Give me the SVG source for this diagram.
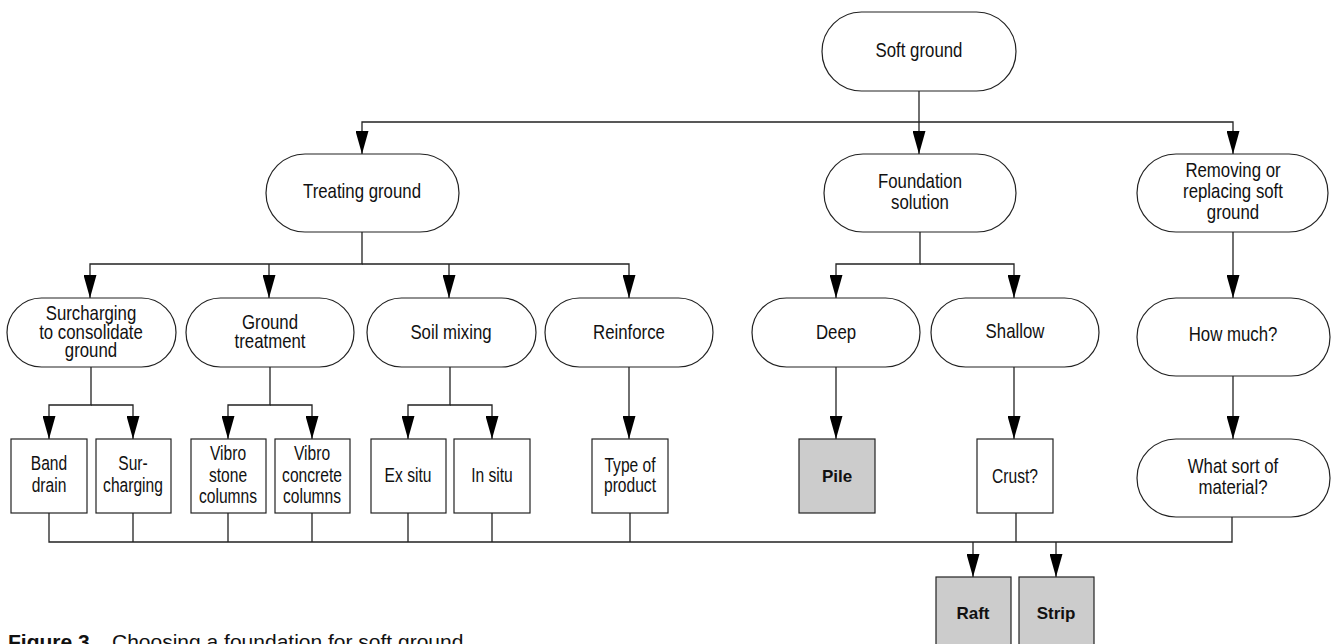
<svg xmlns="http://www.w3.org/2000/svg" width="1332" height="644" viewBox="0 0 1332 644">
<defs>
<style>
.pill{fill:#fff;stroke:#222;stroke-width:1.2}
.box{fill:#fff;stroke:#222;stroke-width:1.2}
.grey{fill:#cccccc;stroke:#222;stroke-width:1.2}
.t{font-family:"Liberation Sans",Arial,sans-serif;font-size:20.5px;fill:#111;text-anchor:middle}
.s{font-family:"Liberation Sans",Arial,sans-serif;font-size:19.5px;fill:#111;text-anchor:middle}
.b{font-family:"Liberation Sans",Arial,sans-serif;font-size:17px;font-weight:bold;fill:#111;text-anchor:middle}
.cap{font-family:"Liberation Sans",Arial,sans-serif;font-size:21px;fill:#111}
.c{fill:none;stroke:#222;stroke-width:1.3}
</style>
<marker id="ah" viewBox="0 0 23 13" refX="23" refY="6.5" markerWidth="23" markerHeight="13" markerUnits="userSpaceOnUse" orient="auto">
<path d="M0,0 L23,6.5 L0,13 z" fill="#000"/>
</marker>
</defs>
<rect width="1332" height="644" fill="#fff"/>

<g id="connectors">
<path class="c" d="M919,91 V154" marker-end="url(#ah)"/>
<path class="c" d="M919,122 H362 V154" marker-end="url(#ah)"/>
<path class="c" d="M919,122 H1233 V154" marker-end="url(#ah)"/>
<path class="c" d="M362,232 V264 H90 V298" marker-end="url(#ah)"/>
<path class="c" d="M362,264 H629 V298" marker-end="url(#ah)"/>
<path class="c" d="M269,264 V298" marker-end="url(#ah)"/>
<path class="c" d="M449,264 V298" marker-end="url(#ah)"/>
<path class="c" d="M920,232 V264 H836 V298" marker-end="url(#ah)"/>
<path class="c" d="M920,264 H1014 V298" marker-end="url(#ah)"/>
<path class="c" d="M1233,232 V298" marker-end="url(#ah)"/>
<path class="c" d="M91,367 V405 H49 V439" marker-end="url(#ah)"/>
<path class="c" d="M91,405 H133 V439" marker-end="url(#ah)"/>
<path class="c" d="M270,367 V405 H228 V439" marker-end="url(#ah)"/>
<path class="c" d="M270,405 H312 V439" marker-end="url(#ah)"/>
<path class="c" d="M450,367 V405 H408 V439" marker-end="url(#ah)"/>
<path class="c" d="M450,405 H492 V439" marker-end="url(#ah)"/>
<path class="c" d="M629,367 V439" marker-end="url(#ah)"/>
<path class="c" d="M836,367 V439" marker-end="url(#ah)"/>
<path class="c" d="M1014,367 V439" marker-end="url(#ah)"/>
<path class="c" d="M1233,376 V439" marker-end="url(#ah)"/>
<path class="c" d="M49,513 V542 H1232 V517"/>
<path class="c" d="M133,513 V542 M228,513 V542 M312,513 V542 M408,513 V542 M492,513 V542 M630,513 V542 M1016,513 V542"/>
<path class="c" d="M973,542 V577" marker-end="url(#ah)"/>
<path class="c" d="M1056,542 V577" marker-end="url(#ah)"/>
</g>

<g id="soft-ground">
<rect class="pill" x="822" y="12" width="194" height="79" rx="39.5"/>
<text class="t" transform="translate(919,0) scale(0.82,1)" x="0" y="57">Soft ground</text>
</g>
<g id="treating-ground">
<rect class="pill" x="266" y="154" width="193" height="78" rx="39"/>
<text class="t" transform="translate(362,0) scale(0.82,1)" x="0" y="198">Treating ground</text>
</g>
<g id="foundation-solution">
<rect class="pill" x="824" y="154" width="192" height="78" rx="39"/>
<text class="t" transform="translate(920,0) scale(0.82,1)"><tspan x="0" y="188">Foundation</tspan><tspan x="0" y="209">solution</tspan></text>
</g>
<g id="removing">
<rect class="pill" x="1137" y="154" width="191" height="78" rx="39"/>
<text class="t" transform="translate(1233,0) scale(0.82,1)"><tspan x="0" y="177">Removing or</tspan><tspan x="0" y="198">replacing soft</tspan><tspan x="0" y="219">ground</tspan></text>
</g>
<g id="surcharging">
<rect class="pill" x="7" y="298" width="169" height="69" rx="34.5"/>
<text class="t" transform="translate(91,0) scale(0.82,1)"><tspan x="0" y="320">Surcharging</tspan><tspan x="0" y="339">to consolidate</tspan><tspan x="0" y="357">ground</tspan></text>
</g>
<g id="ground-treatment">
<rect class="pill" x="186" y="298" width="168" height="69" rx="34.5"/>
<text class="t" transform="translate(270,0) scale(0.82,1)"><tspan x="0" y="329">Ground</tspan><tspan x="0" y="348">treatment</tspan></text>
</g>
<g id="soil-mixing">
<rect class="pill" x="367" y="298" width="169" height="69" rx="34.5"/>
<text class="t" transform="translate(451,0) scale(0.82,1)" x="0" y="339">Soil mixing</text>
</g>
<g id="reinforce">
<rect class="pill" x="545" y="298" width="168" height="69" rx="34.5"/>
<text class="t" transform="translate(629,0) scale(0.82,1)" x="0" y="339">Reinforce</text>
</g>
<g id="deep">
<rect class="pill" x="752" y="298" width="168" height="69" rx="34.5"/>
<text class="t" transform="translate(836,0) scale(0.82,1)" x="0" y="339">Deep</text>
</g>
<g id="shallow">
<rect class="pill" x="931" y="298" width="168" height="69" rx="34.5"/>
<text class="t" transform="translate(1015,0) scale(0.82,1)" x="0" y="338">Shallow</text>
</g>
<g id="how-much">
<rect class="pill" x="1137" y="298" width="193" height="78" rx="39"/>
<text class="t" transform="translate(1233,0) scale(0.82,1)" x="0" y="341">How much?</text>
</g>
<g id="what-sort">
<rect class="pill" x="1137" y="439" width="193" height="78" rx="39"/>
<text class="t" transform="translate(1233,0) scale(0.82,1)"><tspan x="0" y="473">What sort of</tspan><tspan x="0" y="494">material?</tspan></text>
</g>

<g id="band-drain">
<rect class="box" x="11" y="439" width="76" height="74"/>
<text class="s" transform="translate(49,0) scale(0.8,1)"><tspan x="0" y="470">Band</tspan><tspan x="0" y="492">drain</tspan></text>
</g>
<g id="sur-charging">
<rect class="box" x="96" y="439" width="75" height="74"/>
<text class="s" transform="translate(133,0) scale(0.8,1)"><tspan x="0" y="470">Sur-</tspan><tspan x="0" y="492">charging</tspan></text>
</g>
<g id="vibro-stone">
<rect class="box" x="191" y="439" width="75" height="74"/>
<text class="s" transform="translate(228,0) scale(0.8,1)"><tspan x="0" y="460">Vibro</tspan><tspan x="0" y="482">stone</tspan><tspan x="0" y="503">columns</tspan></text>
</g>
<g id="vibro-concrete">
<rect class="box" x="275" y="439" width="75" height="74"/>
<text class="s" transform="translate(312,0) scale(0.8,1)"><tspan x="0" y="460">Vibro</tspan><tspan x="0" y="482">concrete</tspan><tspan x="0" y="503">columns</tspan></text>
</g>
<g id="ex-situ">
<rect class="box" x="371" y="439" width="75" height="74"/>
<text class="s" transform="translate(408,0) scale(0.8,1)" x="0" y="482">Ex situ</text>
</g>
<g id="in-situ">
<rect class="box" x="454" y="439" width="76" height="74"/>
<text class="s" transform="translate(492,0) scale(0.8,1)" x="0" y="482">In situ</text>
</g>
<g id="type-of-product">
<rect class="box" x="592" y="439" width="76" height="74"/>
<text class="s" transform="translate(630,0) scale(0.8,1)"><tspan x="0" y="472">Type of</tspan><tspan x="0" y="492">product</tspan></text>
</g>
<g id="pile">
<rect class="grey" x="799" y="439" width="76" height="74"/>
<text class="b" x="837" y="482">Pile</text>
</g>
<g id="crust">
<rect class="box" x="977" y="439" width="76" height="74"/>
<text class="s" transform="translate(1015,0) scale(0.8,1)" x="0" y="483">Crust?</text>
</g>
<g id="raft">
<rect class="grey" x="936" y="577" width="75" height="74"/>
<text class="b" x="973" y="619">Raft</text>
</g>
<g id="strip">
<rect class="grey" x="1019" y="577" width="75" height="74"/>
<text class="b" x="1056" y="619">Strip</text>
</g>

<g id="caption">
<text class="cap" x="8" y="649"><tspan font-weight="bold">Figure 3</tspan><tspan x="112">Choosing a foundation for soft ground</tspan></text>
</g>
</svg>
